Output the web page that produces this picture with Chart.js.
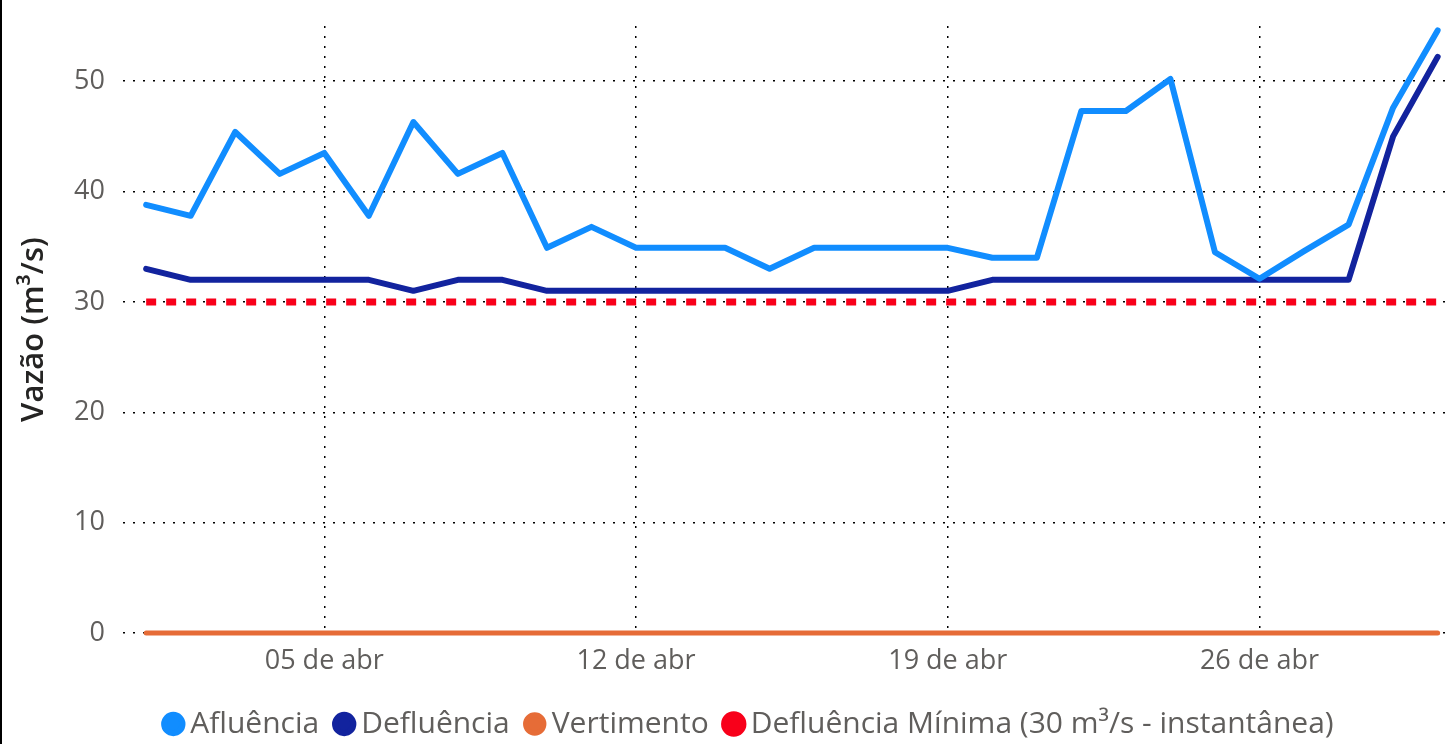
<!DOCTYPE html>
<html>
<head>
<meta charset="utf-8">
<script src="https://cdn.jsdelivr.net/npm/chart.js@4"></script>
<style>
  html, body { margin: 0; padding: 0; background: #fff; }
  #wrap { position: relative; width: 1451px; height: 744px; }
  #edge { position: absolute; left: 0; top: 0; width: 2px; height: 744px; background: #000; }
</style>
</head>
<body>
<div id="wrap">
  <canvas id="chart" width="1451" height="744"></canvas>
  <div id="edge"></div>
</div>
<script>
// days of April
const days = [1, 2, 3, 4, 5, 6, 7, 8, 9, 10, 11, 12, 13, 14, 15,
  16, 17, 18, 19, 20, 21, 22, 23, 24, 25, 26, 27, 28, 29, 30];
const tickDays = [5, 12, 19, 26];

const afluencia = [38.8, 37.8, 45.4, 41.6, 43.5, 37.8, 46.3, 41.6, 43.5, 34.9,
  36.8, 34.9, 34.9, 34.9, 33.0, 34.9, 34.9, 34.9, 34.9, 34.0,
  34.0, 47.3, 47.3, 50.2, 34.5, 32.1, 34.6, 37.0, 47.6, 54.6];
const defluencia = [33, 32, 32, 32, 32, 32, 31, 32, 32, 31,
  31, 31, 31, 31, 31, 31, 31, 31, 31, 32,
  32, 32, 32, 32, 32, 32, 32, 32, 45.0, 52.2];
const vertimento = [0, 0, 0, 0, 0, 0, 0, 0, 0, 0,
  0, 0, 0, 0, 0, 0, 0, 0, 0, 0,
  0, 0, 0, 0, 0, 0, 0, 0, 0, 0];
const defluenciaMinima = [30, 30, 30, 30, 30, 30, 30, 30, 30, 30,
  30, 30, 30, 30, 30, 30, 30, 30, 30, 30,
  30, 30, 30, 30, 30, 30, 30, 30, 30, 30];

const FONT = "'Open Sans', 'Noto Sans', sans-serif";
const GREY = "#605E5C";

const toPoints = (values) => values.map((v, i) => ({ x: days[i], y: v }));

const lineStyle = (color, width) => ({
  borderColor: color,
  backgroundColor: color,
  borderWidth: width,
  pointRadius: 0,
  pointHoverRadius: 0,
  borderJoinStyle: "round",
  borderCapStyle: "round",
  tension: 0,
  clip: false,
});

// the legend sits a little right of centre and slightly lower in the original
const legendNudge = {
  id: "legendNudge",
  afterLayout(chart) {
    const lg = chart.legend;
    lg.left += 26;
    lg.right += 26;
    lg.top += 5;
    lg.bottom += 5;
  },
};

const config = {
  type: "line",
  data: {
    datasets: [
      { label: "Afluência", data: toPoints(afluencia), ...lineStyle("#118DFF", 6) },
      { label: "Defluência", data: toPoints(defluencia), ...lineStyle("#12239E", 6) },
      { label: "Vertimento", data: toPoints(vertimento), ...lineStyle("#E66C37", 5) },
      {
        label: "Defluência Mínima (30 m³/s - instantânea)",
        data: toPoints(defluenciaMinima),
        ...lineStyle("#F8001A", 7),
        borderCapStyle: "butt",
        borderDash: [10, 10],
      },
    ],
  },
  options: {
    responsive: false,
    animation: false,
    layout: { padding: { top: 26, left: 2, right: 0, bottom: 0 } },
    plugins: {
      tooltip: { enabled: false },
      legend: {
        position: "bottom",
        labels: {
          usePointStyle: true,
          pointStyle: "circle",
          boxWidth: 4,
          boxHeight: 13,
          padding: 23,
          color: GREY,
          font: { family: FONT, size: 30 },
        },
      },
    },
    scales: {
      x: {
        type: "linear",
        min: 0.48,
        max: 30.3,
        afterBuildTicks: (scale) => {
          scale.ticks = tickDays.map((d) => ({ value: d }));
        },
        afterFit: (scale) => {
          scale.height = 48;
        },
        border: { display: false, dash: [2, 8] },
        grid: {
          color: "#000",
          lineWidth: 1.5,
          tickLength: 8,
          tickColor: "#000",
          tickBorderDash: [2, 8],
          borderDash: [2, 8],
        },
        ticks: {
          color: GREY,
          padding: 4,
          maxRotation: 0,
          font: { family: FONT, size: 27 },
          callback: (v) => String(v).padStart(2, "0") + " de abr",
        },
      },
      y: {
        min: 0,
        max: 55,
        afterFit: (scale) => {
          scale.width = 121;
          scale.paddingTop = 0;
          scale.paddingBottom = 0;
        },
        border: { display: false, dash: [2, 8] },
        grid: {
          color: "#000",
          lineWidth: 1.5,
          drawTicks: false,
        },
        ticks: {
          stepSize: 10,
          includeBounds: false,
          padding: 18,
          color: GREY,
          font: { family: FONT, size: 27 },
        },
        title: {
          display: true,
          text: "Vazão (m³/s)",
          color: "#252423",
          padding: { top: 14, bottom: 0 },
          font: { family: FONT, size: 31, weight: "600" },
        },
      },
    },
  },
  plugins: [legendNudge],
};

const chart = new Chart(document.getElementById("chart"), config);
</script>
</body>
</html>
